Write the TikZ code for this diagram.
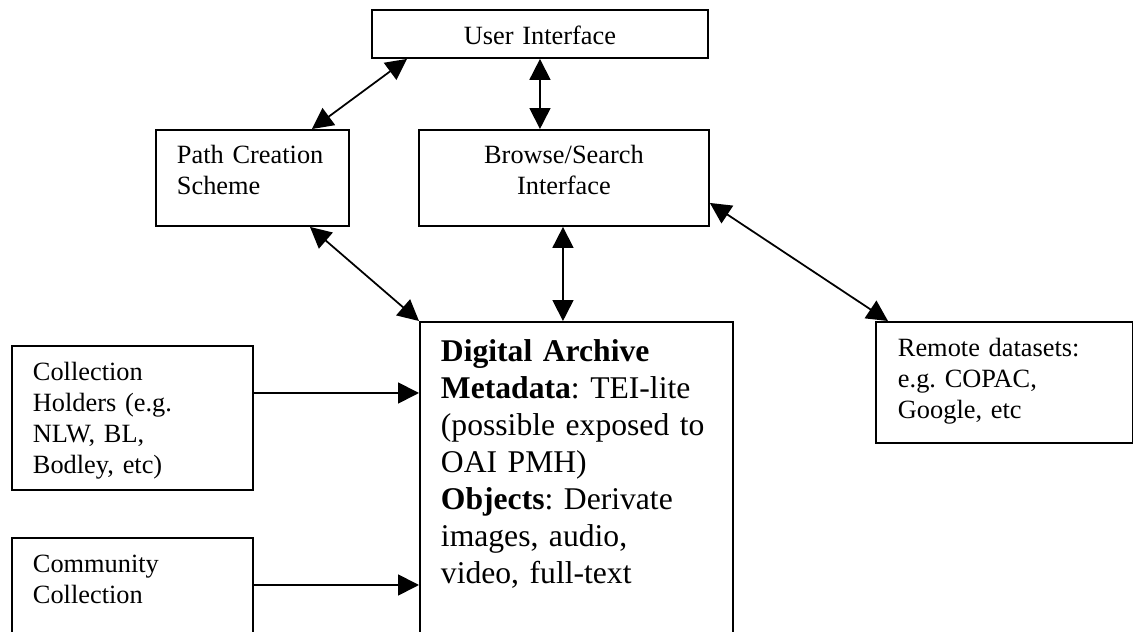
\documentclass[tikz,border=0pt]{standalone}
\usepackage{fontspec}
\setmainfont{Liberation Serif}
\usepackage{tikz}
\usetikzlibrary{arrows.meta}
\frenchspacing

\tikzset{
  box/.style={draw, line width=1.1pt, anchor=north west, inner ysep=0pt, inner xsep=0.42cm, align=left, font=\fontsize{15}{17.5}\selectfont},
  midbox/.style={box, inner xsep=0pt, align=center},
  link/.style={line width=1pt, -{Triangle[length=0.42cm,width=0.42cm]}},
  twoway/.style={link, {Triangle[length=0.42cm,width=0.42cm]}-{Triangle[length=0.42cm,width=0.42cm]}}
}

\begin{document}
\begin{tikzpicture}[x=0.02cm, y=-0.02cm]
        \useasboundingbox (0,0) rectangle (1133,632);
        \node[midbox, text width=6.72cm, text height=0.70cm, text depth=0.26cm] (ui) at (371,9) {User Interface};
        \node[box, text width=3.02cm, text height=0.68cm, text depth=1.24cm] (path) at (155,129) {Path Creation\\Scheme};
        \node[midbox, text width=5.8cm, text height=0.68cm, text depth=1.24cm] (browse) at (418,129) {Browse/Search\\Interface};
        \node[box, text width=5.42cm, text height=0.8cm, text depth=6.78cm, font=\fontsize{18}{21}\selectfont] (archive) at (419,321)
          {\textbf{Digital Archive}\\ \textbf{Metadata}: TEI-lite\\ (possible exposed to\\ OAI PMH)\\ \textbf{Objects}: Derivate\\ images, audio,\\ video, full-text};
        \node[box, text width=4.26cm, inner xsep=0.44cm, text height=0.7cm, text depth=1.72cm] (remote) at (875,321) {Remote datasets:\\e.g. COPAC,\\Google, etc};
        \node[box, text width=3.98cm, text height=0.7cm, text depth=2.18cm] (holders) at (11,345) {Collection\\Holders (e.g.\\NLW, BL,\\Bodley, etc)};
        \node[box, text width=3.98cm, text height=0.7cm, text depth=2.56cm] (community) at (11,537) {Community\\Collection};
        \draw[twoway] ([xshift=3.14cm]path.north west) -- ([xshift=0.72cm]ui.south west);
        \draw[twoway] ([xshift=3.38cm]ui.south west) -- ([xshift=2.44cm]browse.north west);
        \draw[twoway] ([xshift=3.1cm]path.south west) -- (archive.north west);
        \draw[twoway] ([xshift=2.9cm]browse.south west) -- ([xshift=2.88cm]archive.north west);
        \draw[twoway] ([yshift=-0.5cm]browse.east) -- ([xshift=0.26cm]remote.north west);
        \draw[link] ([yshift=-0.96cm]holders.north east) -- ([yshift=-0.96cm]holders.north east -| archive.west);
        \draw[link] ([yshift=-0.96cm]community.north east) -- ([yshift=-0.96cm]community.north east -| archive.west);
      \end{tikzpicture}
\end{document}
